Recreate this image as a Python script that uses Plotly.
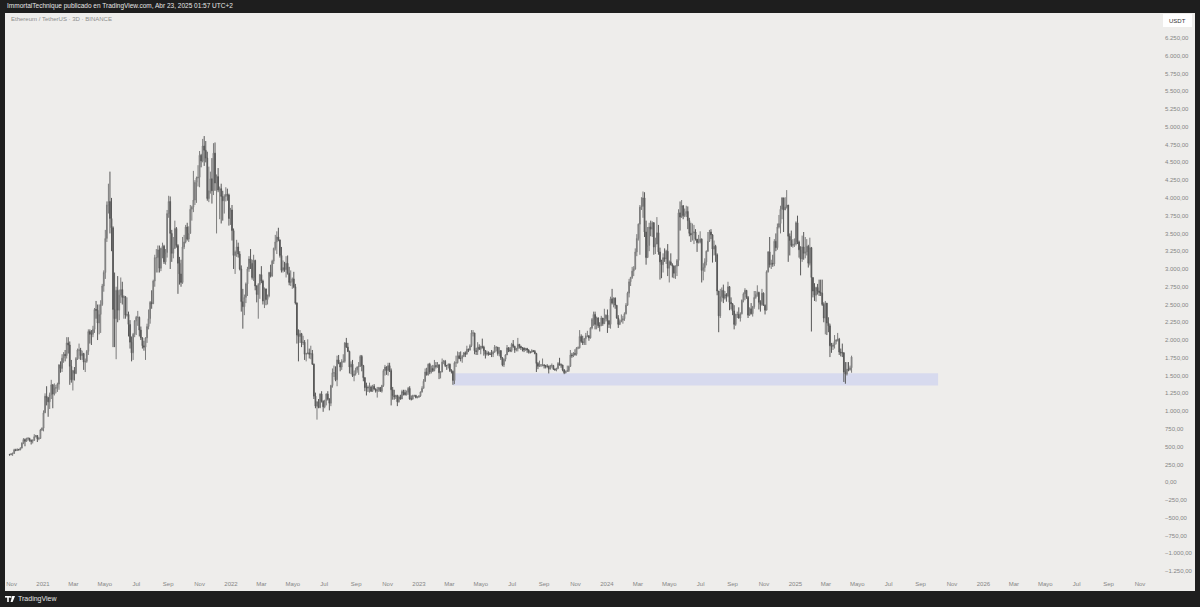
import plotly.graph_objects as go
import pandas as pd

# ---------------- DATA (ETH/USDT, 3D candles, Binance) ----------------
start_date = "2020-10-28"
first_open = 390

close = [
    385, 395, 403, 455, 445, 462, 455, 480, 550, 600, 575, 615, 615, 590, 575, 590, 640, 655, 610, 615, 735, 760,
    975, 1210, 1190, 1130, 1230, 1370, 1240, 1320, 1330, 1380,
    1650, 1600, 1745, 1800, 1780, 1960, 1930, 1630, 1440, 1570,
    1530, 1740, 1860, 1860, 1780, 1810, 1690, 1700, 1840, 2120,
    2080, 2080, 2150, 2430, 2420, 2240, 2360, 2500, 2760, 2950,
    3430, 3900, 3950, 3710, 3580, 2430, 2300, 2700, 2420, 2630,
    2710, 2600, 2610, 2350, 2360, 2220, 1970, 1820, 2080, 2270,
    2320, 2320, 2140, 2030, 1920, 1900, 2030, 2190, 2300, 2530, 2510,
    2830, 3160, 3160, 3270, 3010, 3290, 3320, 3100, 3230, 3780,
    3950, 3500, 3220, 3290, 3570, 3330, 3080, 2930, 2810, 3310,
    3380, 3590, 3420, 3500, 3840, 3870, 3970, 4220, 4280, 4290,
    4600, 4520, 4730, 4670, 4560, 3990, 4100, 4270, 4100, 4630,
    4210, 4300, 4110, 4130, 4020, 3960, 4020, 4050, 4040, 3710, 3830,
    3540, 3190, 3240, 3310, 3210, 3000, 2540, 2470, 2600, 2790,
    3000, 3140, 3080, 2880, 3120, 2760, 2640, 2780, 2920,
    2830, 2550, 2720, 2570, 2620, 2950, 2900, 3110, 3290, 3380, 3450,
    3410, 3190, 2980, 3020, 2990, 3080, 2940, 2810, 2820, 2860,
    2750, 2520, 2070, 2050, 2090, 1960, 1970, 1800, 1810, 1820,
    1800, 1810, 1660, 1210, 1070, 1130, 1050, 1240, 1140, 1060,
    1150, 1240, 1170, 1110, 1360, 1540, 1540, 1440, 1720, 1680,
    1620, 1700, 1700, 1960, 1900, 1840, 1620, 1660, 1500, 1520, 1580,
    1620, 1630, 1770, 1640, 1470, 1330, 1330, 1330, 1340, 1280,
    1350, 1310, 1280, 1300, 1330, 1280, 1360, 1570, 1620, 1570,
    1640, 1570, 1300, 1220, 1200, 1220, 1130, 1200, 1170, 1275,
    1260, 1230, 1265, 1320, 1170, 1170, 1220, 1220, 1190, 1196,
    1215, 1270, 1320, 1420, 1550, 1510, 1660, 1550, 1600, 1570, 1640,
    1630, 1650, 1540, 1550, 1690, 1700, 1640, 1640, 1660,
    1570, 1560, 1430, 1680, 1680, 1780, 1740, 1740, 1770, 1820,
    1800, 1870, 1860, 1920, 2100, 2100, 1850, 1840, 1900, 1870,
    1910, 1900, 1850, 1800, 1820, 1800, 1800, 1800, 1830, 1900, 1900,
    1810, 1850, 1750, 1650, 1730, 1790, 1890, 1860, 1850, 1940,
    1910, 1860, 1880, 1940, 1910, 1890, 1890, 1860, 1880, 1860,
    1830, 1830, 1850, 1840, 1810, 1670, 1630, 1650, 1650, 1650,
    1640, 1630, 1630, 1590, 1640, 1640, 1590, 1580, 1600, 1670,
    1650, 1650, 1580, 1540, 1560, 1570, 1630, 1790, 1780, 1810, 1800,
    1890, 1890, 2050, 1980, 1960, 2020, 2060, 2060, 2030, 2170,
    2290, 2360, 2220, 2310, 2200, 2200, 2310, 2230, 2300, 2350,
    2270, 2220, 2580, 2520, 2590, 2490, 2310, 2220, 2260, 2280,
    2300, 2370, 2490, 2660, 2820, 2880, 2970, 3000, 3240, 3430,
    3630, 3870, 3880, 4000, 3520, 3160, 3330, 3590, 3560, 3650,
    3310, 3350, 3510, 3240, 3100, 3060, 3160, 3140, 3250, 3010,
    3100, 3060, 3040, 2940, 3040, 3120, 3790, 3730, 3890, 3750, 3780,
    3810, 3680, 3500, 3480, 3510, 3520, 3420, 3370, 3380, 3420,
    2980, 3020, 3100, 3250, 3390, 3520, 3480, 3280, 3320, 3200,
    2690, 2340, 2610, 2700, 2590, 2640, 2620, 2750, 2530, 2510,
    2410, 2220, 2360, 2360, 2310, 2370, 2560, 2650, 2700, 2600,
    2350, 2440, 2370, 2470, 2600, 2640, 2670, 2530, 2500, 2660, 2490,
    2420, 2960, 3240, 3060, 3080, 3070, 3390, 3300, 3590, 3640,
    3840, 4000, 3830, 3870, 3900, 3460, 3400, 3330, 3350, 3350,
    3650, 3380, 3270, 3140, 3310, 3220, 3240, 3320, 3080, 3300,
    2880, 2690, 2630, 2740, 2690, 2670, 2660, 2500, 2310, 2520,
    2240, 2200, 1920, 1910, 1930, 1980, 2000, 2010, 1830, 1820,
    1820, 1550, 1520, 1590, 1580, 1610, 1760,
]

high = [
    398, 410, 418, 470, 470, 475, 465, 490, 560, 620, 615, 625, 635, 625, 600, 600, 675, 665, 660, 635, 750, 770,
    1010, 1250, 1350, 1200, 1260, 1440, 1380, 1390, 1370, 1400,
    1660, 1700, 1800, 1830, 1860, 2040, 2040, 1980, 1720, 1580,
    1620, 1760, 1880, 1950, 1890, 1850, 1820, 1740, 1860, 2150,
    2150, 2140, 2200, 2450, 2550, 2500, 2500, 2560, 2790, 2980,
    3550, 3950, 4200, 4370, 4000, 3600, 2950, 2750, 2900, 2710,
    2880, 2820, 2630, 2620, 2600, 2400, 2280, 2050, 2100, 2280,
    2340, 2410, 2330, 2190, 2040, 1990, 2040, 2230, 2430, 2550, 2700,
    2850, 3200, 3280, 3330, 3330, 3300, 3370, 3340, 3280, 3830,
    4030, 4020, 3550, 3450, 3680, 3590, 3350, 3170, 3130, 3450,
    3480, 3620, 3650, 3600, 3900, 3890, 4380, 4250, 4300, 4460,
    4660, 4620, 4830, 4870, 4800, 4650, 4440, 4370, 4560, 4770,
    4780, 4330, 4420, 4160, 4200, 4100, 4050, 4150, 4130, 4060, 3860,
    3900, 3570, 3260, 3410, 3370, 3250, 3050, 2720, 2640, 2810,
    3030, 3180, 3280, 3130, 3200, 3130, 2770, 2800, 2930,
    3040, 2850, 2740, 2660, 2640, 2960, 3060, 3130, 3300, 3480, 3530,
    3580, 3410, 3310, 3120, 3100, 3180, 3190, 3030, 2980, 2880,
    2960, 2790, 2530, 2150, 2140, 2100, 2060, 2000, 1820, 2010,
    1880, 1920, 1860, 1670, 1260, 1140, 1170, 1250, 1280, 1150,
    1160, 1250, 1280, 1180, 1370, 1600, 1640, 1630, 1780, 1790,
    1690, 1730, 1800, 1970, 2030, 1960, 1850, 1700, 1720, 1570, 1610,
    1630, 1690, 1790, 1790, 1650, 1480, 1400, 1360, 1400, 1360,
    1370, 1380, 1320, 1340, 1340, 1340, 1370, 1590, 1650, 1630,
    1680, 1680, 1600, 1340, 1300, 1230, 1230, 1220, 1230, 1300,
    1300, 1300, 1290, 1340, 1350, 1220, 1230, 1230, 1230, 1210,
    1220, 1275, 1350, 1450, 1600, 1610, 1670, 1680, 1640, 1650, 1720,
    1690, 1690, 1660, 1560, 1740, 1720, 1720, 1650, 1670,
    1670, 1590, 1570, 1700, 1780, 1840, 1830, 1840, 1790, 1830,
    1840, 1920, 1880, 1940, 2140, 2140, 2100, 1890, 1970, 1940,
    1920, 2020, 1920, 1860, 1850, 1840, 1830, 1860, 1850, 1930, 1910,
    1900, 1900, 1860, 1760, 1740, 1800, 1930, 1900, 1900, 1960,
    2000, 1920, 1890, 2030, 1940, 1920, 1900, 1890, 1890, 1890,
    1870, 1840, 1870, 1860, 1860, 1820, 1690, 1710, 1660, 1740,
    1660, 1650, 1660, 1640, 1650, 1670, 1650, 1600, 1610, 1690,
    1750, 1670, 1650, 1590, 1570, 1640, 1640, 1860, 1820, 1830, 1870,
    1900, 1910, 2140, 2080, 2060, 2030, 2100, 2130, 2070, 2180,
    2310, 2400, 2400, 2330, 2320, 2250, 2340, 2310, 2440, 2360,
    2430, 2280, 2610, 2720, 2600, 2600, 2480, 2350, 2290, 2360,
    2340, 2390, 2520, 2680, 2860, 2890, 3030, 3040, 3290, 3490,
    3640, 3900, 4010, 4090, 4080, 3680, 3590, 3650, 3680, 3670,
    3660, 3440, 3730, 3620, 3300, 3130, 3220, 3290, 3270, 3350,
    3120, 3220, 3080, 3050, 3050, 3140, 3840, 3950, 3970, 3900, 3850,
    3890, 3880, 3720, 3650, 3640, 3620, 3560, 3420, 3480, 3530,
    3430, 3080, 3150, 3260, 3520, 3550, 3560, 3490, 3400, 3340,
    3220, 2600, 2720, 2740, 2780, 2690, 2660, 2820, 2760, 2600,
    2520, 2490, 2370, 2400, 2460, 2390, 2570, 2670, 2730, 2700,
    2620, 2460, 2520, 2480, 2690, 2690, 2770, 2680, 2560, 2720, 2670,
    2500, 2980, 3250, 3450, 3130, 3200, 3420, 3500, 3640, 3760,
    3890, 4010, 4000, 4010, 4110, 3900, 3500, 3540, 3420, 3430,
    3670, 3750, 3400, 3320, 3470, 3520, 3450, 3420, 3340, 3440,
    3310, 2880, 2800, 2750, 2790, 2850, 2850, 2850, 2530, 2550,
    2520, 2320, 2230, 1960, 1960, 2070, 2010, 2100, 2030, 1880,
    1950, 1830, 1690, 1690, 1690, 1640, 1780,
]

low = [
    374, 380, 370, 400, 436, 440, 445, 450, 475, 535, 505, 570, 585, 570, 530, 545, 580, 630, 565, 590, 610, 720,
    715, 1020, 1080, 920, 1030, 1170, 1040, 1220, 1250, 1270,
    1300, 1540, 1550, 1680, 1700, 1740, 1810, 1370, 1400, 1290,
    1430, 1520, 1720, 1730, 1720, 1720, 1580, 1550, 1680, 1790,
    1950, 1930, 2040, 2100, 2300, 2000, 2080, 2100, 2480, 2680,
    2860, 3380, 3780, 3500, 3250, 1900, 1900, 1730, 2250, 2280,
    2520, 2500, 2300, 2300, 2330, 2050, 1880, 1700, 1720, 2040,
    2070, 2200, 2050, 2000, 1880, 1850, 1720, 1960, 2150, 2230, 2440,
    2510, 2750, 2950, 2950, 2950, 2970, 3150, 3070, 3060, 3160,
    3720, 3000, 3100, 3150, 3280, 3300, 2650, 2780, 2750, 2790,
    3280, 3360, 3400, 3380, 3500, 3680, 3800, 3900, 3930, 4160,
    4150, 4430, 4500, 4450, 4500, 3960, 3940, 4060, 3920, 4040,
    4100, 3500, 4080, 3700, 3640, 3680, 3780, 3950, 3960, 3610, 3620,
    3400, 3000, 2930, 3170, 3160, 2980, 2400, 2160, 2350, 2520,
    2620, 2960, 3000, 2850, 2830, 2700, 2530, 2300, 2580,
    2800, 2500, 2450, 2490, 2500, 2600, 2880, 2890, 3070, 3260, 3210,
    3390, 3160, 2950, 2950, 2960, 2880, 2920, 2770, 2760, 2720,
    2730, 2500, 1950, 1700, 1960, 1900, 1930, 1720, 1700, 1800,
    1740, 1730, 1650, 1170, 1040, 880, 1040, 1040, 1120, 990,
    1040, 1080, 1150, 1010, 1070, 1330, 1480, 1420, 1350, 1660,
    1560, 1580, 1680, 1680, 1890, 1830, 1530, 1520, 1480, 1420, 1500,
    1540, 1510, 1620, 1560, 1420, 1280, 1220, 1270, 1260, 1270,
    1270, 1300, 1260, 1190, 1270, 1270, 1260, 1340, 1500, 1510,
    1500, 1550, 1080, 1160, 1160, 1170, 1070, 1120, 1160, 1170,
    1220, 1220, 1220, 1230, 1160, 1150, 1160, 1200, 1180, 1180,
    1190, 1200, 1260, 1320, 1410, 1500, 1500, 1520, 1530, 1550, 1560,
    1600, 1610, 1450, 1460, 1550, 1660, 1620, 1580, 1600,
    1550, 1530, 1370, 1380, 1620, 1670, 1730, 1700, 1680, 1760,
    1760, 1800, 1830, 1850, 1900, 2050, 1800, 1790, 1790, 1860,
    1800, 1880, 1780, 1740, 1780, 1780, 1790, 1760, 1760, 1820, 1840,
    1780, 1770, 1720, 1630, 1620, 1700, 1790, 1830, 1830, 1830,
    1890, 1820, 1840, 1840, 1880, 1860, 1840, 1830, 1850, 1820,
    1810, 1810, 1820, 1830, 1800, 1550, 1590, 1620, 1620, 1630,
    1600, 1600, 1610, 1530, 1590, 1610, 1580, 1570, 1560, 1590,
    1640, 1610, 1560, 1520, 1530, 1550, 1550, 1620, 1750, 1760, 1780,
    1780, 1870, 1880, 1960, 1930, 1930, 1930, 2040, 1990, 2020,
    2150, 2200, 2150, 2150, 2170, 2120, 2200, 2200, 2280, 2260,
    2100, 2170, 2160, 2500, 2460, 2440, 2300, 2170, 2210, 2250,
    2230, 2270, 2360, 2480, 2600, 2760, 2860, 2900, 2990, 3180,
    3400, 3200, 3830, 3720, 3450, 3060, 3240, 3250, 3460, 3450,
    3200, 3210, 3480, 3200, 2850, 2870, 2950, 3100, 3070, 2900,
    2810, 3050, 2880, 2870, 2860, 2900, 3040, 3540, 3720, 3700, 3730,
    3730, 3560, 3460, 3380, 3400, 3350, 3400, 3240, 3360, 3360,
    2810, 2840, 2960, 3050, 3240, 3380, 3420, 3090, 3190, 3100,
    2630, 2110, 2310, 2540, 2520, 2570, 2540, 2600, 2420, 2430,
    2350, 2150, 2200, 2310, 2300, 2260, 2360, 2530, 2560, 2580,
    2310, 2340, 2360, 2330, 2440, 2580, 2610, 2430, 2400, 2480, 2480,
    2360, 2420, 2950, 3020, 3000, 3030, 3040, 3250, 3270, 3570,
    3500, 3700, 3520, 3830, 3850, 3100, 3190, 3310, 3300, 3310,
    3330, 3350, 3160, 2910, 3100, 3130, 3150, 3190, 3020, 3050,
    2120, 2600, 2550, 2540, 2640, 2620, 2620, 2480, 2250, 2080,
    2070, 2110, 1760, 1820, 1860, 1880, 1940, 1980, 1790, 1770,
    1760, 1410, 1385, 1500, 1560, 1570, 1540,
]

# support zone drawn on the chart
zone_start = "2023-03-08"
zone_end = "2025-10-05"
zone_low = 1360
zone_high = 1532

# axis ticks / labels
x_tick_text = ["Nov",
               "2021", "Mar", "Mayo", "Jul", "Sep", "Nov",
               "2022", "Mar", "Mayo", "Jul", "Sep", "Nov",
               "2023", "Mar", "Mayo", "Jul", "Sep", "Nov",
               "2024", "Mar", "Mayo", "Jul", "Sep", "Nov",
               "2025", "Mar", "Mayo", "Jul", "Sep", "Nov",
               "2026", "Mar", "Mayo", "Jul", "Sep", "Nov"]
x_tick_start = "2020-11-01"
y_tick_vals = [v for v in range(-1250, 6251, 250)]

header_text = "ImmortalTechnique publicado en TradingView.com, Abr 23, 2025 01:57 UTC+2"
symbol_text = "Ethereum / TetherUS · 3D · BINANCE"
currency_text = "USDT"
brand_text = "TradingView"

# ---------------- BUILD ----------------
dates = pd.date_range(start_date, periods=len(close), freq="3D")
opens = [first_open] + close[:-1]
hi = [max(h, o, c) for h, o, c in zip(high, opens, close)]
lo = [min(l, o, c) for l, o, c in zip(low, opens, close)]

x_tick_vals = pd.date_range(x_tick_start, periods=len(x_tick_text), freq="2MS")


def fmt_eu(v):
    s = f"{abs(v):,.2f}".replace(",", "X").replace(".", ",").replace("X", ".")
    return ("\u2212" if v < 0 else "") + s


y_tick_text = [fmt_eu(v) for v in y_tick_vals]

W, H = 1200, 607
L, R, T, B = 5, 42, 13, 30
PW, PH = W - L - R, H - T - B


def fx(px):
    return (px - L) / PW


def fy(py):
    return (H - B - py) / PH


BG_DARK = "#1e1e1e"
PANEL = "#eeedeb"
TXT = "#858585"
FONT = "Liberation Sans, Arial, sans-serif"

fig = go.Figure()
fig.add_trace(go.Candlestick(
    x=dates, open=opens, high=hi, low=lo, close=close,
    increasing=dict(line=dict(color="#7c7c7c", width=1), fillcolor="#bcbcbc"),
    decreasing=dict(line=dict(color="#585858", width=1), fillcolor="#6c6c6c"),
    whiskerwidth=0, hoverinfo="skip", showlegend=False,
))

shapes = [
    # light chart panel (covers price scale and time scale)
    dict(type="rect", xref="paper", yref="paper", x0=fx(5), x1=fx(1195), y0=fy(591), y1=fy(13),
         fillcolor=PANEL, line=dict(width=0), layer="below"),
    # support zone
    dict(type="rect", xref="x", yref="y", x0=zone_start, x1=zone_end, y0=zone_low, y1=zone_high,
         fillcolor="#d7daee", line=dict(width=0), layer="below"),
    # currency box
    dict(type="rect", xref="paper", yref="paper", x0=fx(1163), x1=fx(1192), y0=fy(27), y1=fy(14),
         fillcolor="#ffffff", line=dict(width=0), layer="above"),
    # TradingView logo glyph
    dict(type="rect", xref="paper", yref="paper", x0=fx(5), x1=fx(10), y0=fy(597.6), y1=fy(596),
         fillcolor="#ffffff", line=dict(width=0), layer="above"),
    dict(type="rect", xref="paper", yref="paper", x0=fx(7.2), x1=fx(8.8), y0=fy(602), y1=fy(596),
         fillcolor="#ffffff", line=dict(width=0), layer="above"),
    dict(type="circle", xref="paper", yref="paper", x0=fx(9.8), x1=fx(11.6), y0=fy(597.8), y1=fy(596),
         fillcolor="#ffffff", line=dict(width=0), layer="above"),
    dict(type="path", xref="paper", yref="paper",
         path=f"M {fx(12.2)},{fy(596)} L {fx(15)},{fy(596)} L {fx(12.6)},{fy(602)} L {fx(10.6)},{fy(602)} Z",
         fillcolor="#ffffff", line=dict(width=0), layer="above"),
]

annotations = [
    dict(text=header_text, xref="paper", yref="paper", x=fx(5), y=fy(6.5), xanchor="left", yanchor="middle",
         showarrow=False, font=dict(family=FONT, size=6.5, color="#e6e6e6")),
    dict(text=symbol_text, xref="paper", yref="paper", x=fx(9), y=fy(19.5), xanchor="left", yanchor="middle",
         showarrow=False, font=dict(family=FONT, size=6, color="#8c8c8c")),
    dict(text=currency_text, xref="paper", yref="paper", x=fx(1167), y=fy(20.5), xanchor="left", yanchor="middle",
         showarrow=False, font=dict(family=FONT, size=6, color="#333333")),
    dict(text=brand_text, xref="paper", yref="paper", x=fx(16), y=fy(599), xanchor="left", yanchor="middle",
         showarrow=False, font=dict(family=FONT, size=7, color="#e6e6e6")),
]

fig.update_layout(
    width=W, height=H,
    margin=dict(l=L, r=R, t=T, b=B, pad=0),
    paper_bgcolor=BG_DARK, plot_bgcolor=PANEL,
    showlegend=False,
    font=dict(family=FONT, size=6, color=TXT),
    shapes=shapes, annotations=annotations,
    hovermode=False,
)
fig.update_xaxes(
    type="date", range=["2020-10-19 05:00", "2026-12-06"],
    tickvals=x_tick_vals, ticktext=x_tick_text,
    showgrid=False, zeroline=False, showline=False, ticks="",
    ticklabelstandoff=2,
    tickfont=dict(family=FONT, size=6, color=TXT),
    rangeslider=dict(visible=False), fixedrange=True,
)
fig.update_yaxes(
    side="right", range=[-1334.4, 6601.8],
    tickvals=y_tick_vals, ticktext=y_tick_text,
    showgrid=False, zeroline=False, showline=False, ticks="",
    ticklabelstandoff=6,
    tickfont=dict(family=FONT, size=6, color=TXT),
    fixedrange=True,
)

fig.write_html(
    "out.html",
    config={"displayModeBar": False},
    post_script="document.body.style.margin='0px';document.body.style.padding='0px';"
                "document.body.style.background='#1e1e1e';document.body.style.overflow='hidden';",
)
